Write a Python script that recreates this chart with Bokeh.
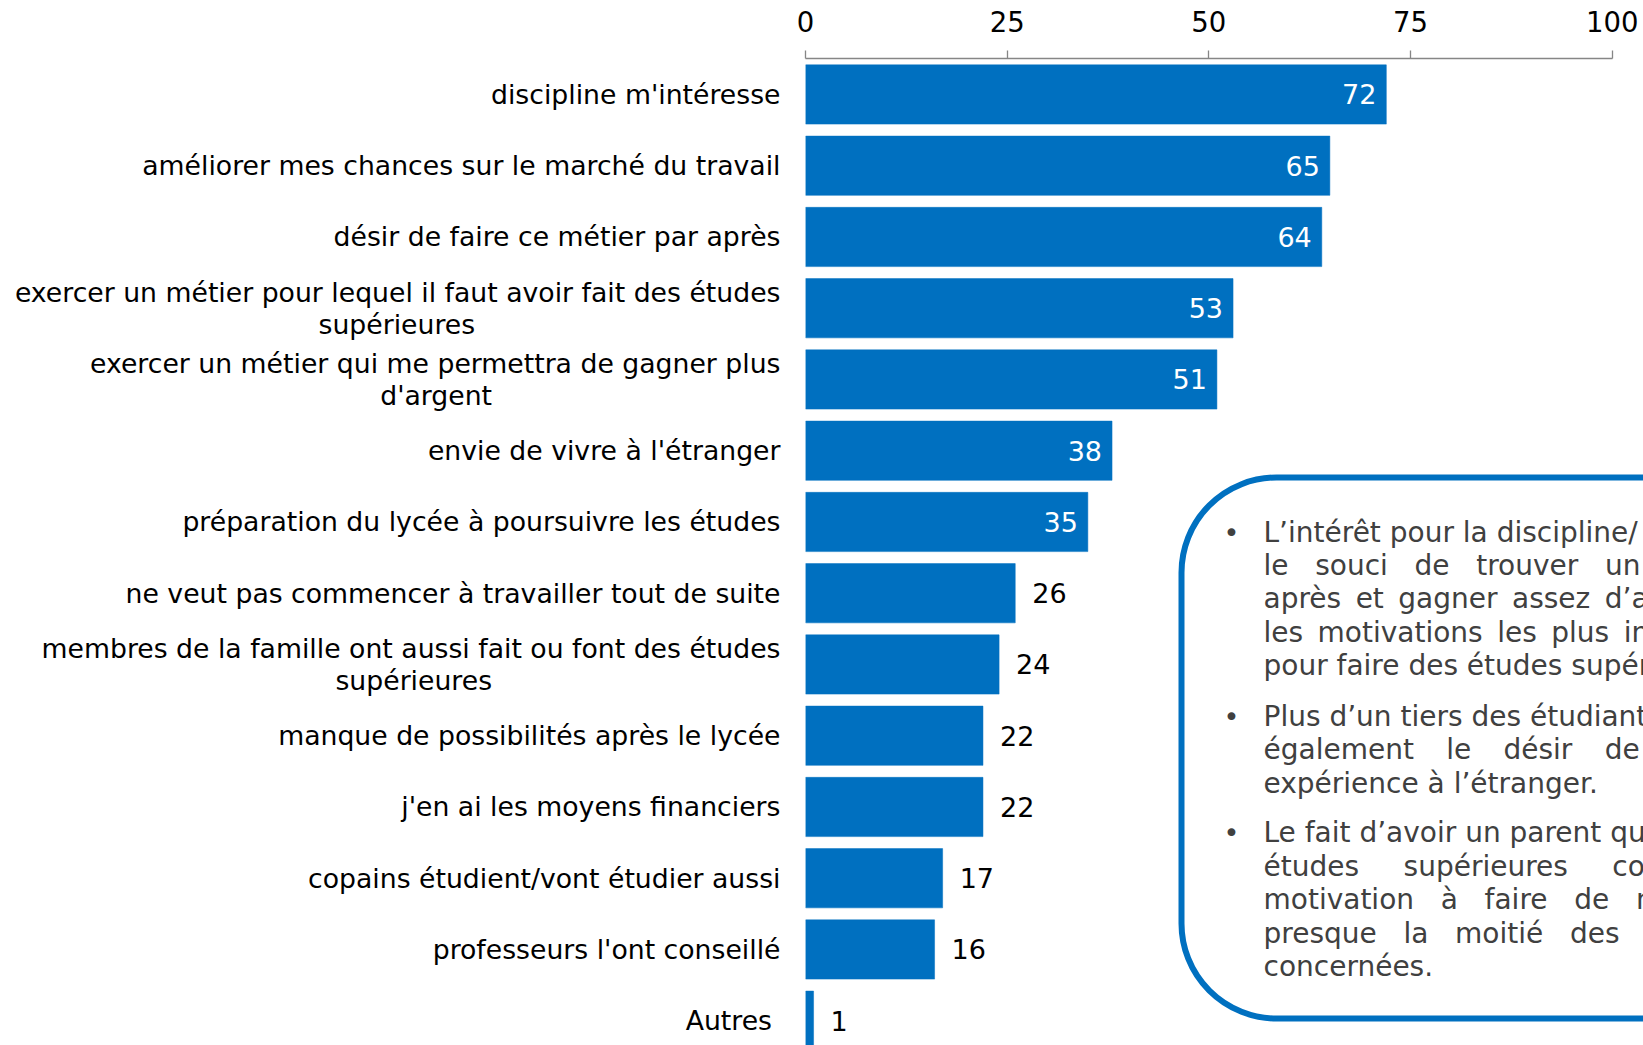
from bokeh.plotting import figure
from bokeh.models import Range1d, FixedTicker, ColumnDataSource, BoxAnnotation, Label
from bokeh.embed import file_html
from bokeh.resources import INLINE
from bokeh.core.properties import value

# ---------------- data ----------------
NB = "\u00a0"
TH = "\u2009"
categories = [
    "discipline m'intéresse",
    "améliorer mes chances sur le marché du travail",
    "désir de faire ce métier par après",
    "exercer un métier pour lequel il faut avoir fait des études\nsupérieures",
    "exercer un métier qui me permettra de gagner plus\nd'argent",
    "envie de vivre à l'étranger",
    "préparation du lycée à poursuivre les études",
    "ne veut pas commencer à travailler tout de suite",
    "membres de la famille ont aussi fait ou font des études\nsupérieures",
    "manque de possibilités après le lycée",
    "j'en ai les moyens financiers",
    "copains étudient/vont étudier aussi",
    "professeurs l'ont conseillé",
    "Autres",
]
values = [72, 65, 64, 53, 51, 38, 35, 26, 24, 22, 22, 17, 16, 1]
x_ticks = [0, 25, 50, 75, 100]
base_note = "Base: Tous (n=2859)"

# trailing no-break spaces: centre the 2nd line of wrapped labels / nudge "Autres"
label_pad = [0, 0, 0, 36, 34, 0, 0, 0, 34, 0, 0, 0, 0, 1]

box_paragraphs = [
    [
        "L’intérêt pour la discipline/",
        "le" + NB * 3 + "souci" + NB * 3 + "de" + NB * 3 + "trouver" + NB * 3 + "un",
        "après" + NB + TH + "et" + NB + TH + "gagner" + NB + TH + "assez" + NB + TH + "d’argent",
        "les" + NB + TH + "motivations" + NB + TH + "les" + NB + TH + "plus" + NB + TH + "importantes",
        "pour faire des études supérieures.",
    ],
    [
        "Plus d’un tiers des étudiants",
        "également" + NB * 3 + TH + "le" + NB * 3 + TH + "désir" + NB * 3 + TH + "de",
        "expérience à l’étranger.",
    ],
    [
        "Le fait d’avoir un parent qui",
        "études" + NB * 5 + "supérieures" + NB * 5 + "constitue",
        "motivation" + NB * 3 + "à" + NB * 3 + "faire" + NB * 3 + "de" + NB * 3 + "même",
        "presque" + NB * 3 + "la" + NB * 3 + "moitié" + NB * 3 + "des",
        "concernées.",
    ],
]

# ---------------- layout / style ----------------
FONT = "DejaVu Sans"
FS_CAT = "26.7px"
FS_VAL = "27px"
FS_TICK = "27.5px"
FS_BOX = "28px"
BLUE = "#0070C0"
W, H = 1643, 1045
FRAME_L, FRAME_T = 805, 58
PX_PER_UNIT = 8.067
PITCH = 71.25
Y_TOP = -0.505


def dx(px):
    return (px - FRAME_L) / PX_PER_UNIT


def dy(py):
    return Y_TOP + (py - FRAME_T) / PITCH


idx = list(range(len(categories)))
labels = [c + NB * n for c, n in zip(categories, label_pad)]

p = figure(
    width=W, height=H,
    x_range=Range1d(0, (W - FRAME_L) / PX_PER_UNIT),
    y_range=Range1d(start=Y_TOP + (H - FRAME_T) / PITCH, end=Y_TOP),
    x_axis_location="above",
    output_backend="svg", toolbar_location=None,
    min_border_left=FRAME_L, min_border_right=0,
    min_border_top=FRAME_T, min_border_bottom=0,
)
p.outline_line_color = None
p.grid.visible = False
p.background_fill_color = "white"
p.border_fill_color = "white"

src = ColumnDataSource(dict(y=idx, v=values))
p.hbar(y="y", right="v", left=0, height=0.832, source=src,
       fill_color=BLUE, line_color=BLUE, line_width=0.5)

# value labels
inside = [i for i in idx if values[i] >= 30]
outside = [i for i in idx if values[i] < 30]
src_in = ColumnDataSource(dict(y=inside, v=[values[i] for i in inside],
                               t=[str(values[i]) for i in inside]))
src_out = ColumnDataSource(dict(y=outside, v=[values[i] for i in outside],
                                t=[str(values[i]) for i in outside]))
p.text(x="v", y="y", text="t", source=src_in, x_offset=-10,
       text_align="right", text_baseline="middle", text_color="white",
       text_font=value(FONT), text_font_size=FS_VAL)
p.text(x="v", y="y", text="t", source=src_out, x_offset=17,
       text_align="left", text_baseline="middle", text_color="black",
       text_font=value(FONT), text_font_size=FS_VAL)

# top axis
xa = p.xaxis[0]
xa.ticker = FixedTicker(ticks=x_ticks)
xa.bounds = (0, 100)
xa.major_tick_out = 8
xa.major_tick_in = 0
xa.minor_tick_out = 0
xa.minor_tick_in = 0
xa.axis_line_color = "#868686"
xa.axis_line_width = 1.3
xa.major_tick_line_color = "#868686"
xa.major_tick_line_width = 1.3
xa.major_label_standoff = 19
xa.major_label_text_font = FONT
xa.major_label_text_font_size = FS_TICK
xa.major_label_text_color = "black"

# left axis with category labels
ya = p.yaxis[0]
ya.ticker = FixedTicker(ticks=idx)
ya.major_label_overrides = {i: c for i, c in zip(idx, labels)}
ya.axis_line_color = None
ya.major_tick_line_color = None
ya.minor_tick_line_color = None
ya.major_tick_out = 0
ya.major_tick_in = 0
ya.minor_tick_out = 0
ya.minor_tick_in = 0
ya.major_label_standoff = 25
ya.major_label_text_font = FONT
ya.major_label_text_font_size = FS_CAT
ya.major_label_text_line_height = 1.03
ya.major_label_text_color = "black"

# base note (cropped at the top in the original)
p.add_layout(Label(x=dx(37.7), y=dy(11), text=base_note, text_align="left",
                   text_baseline="alphabetic", text_color="#7f7f7f",
                   text_font=FONT, text_font_size=FS_CAT))

# rounded comment box
p.add_layout(BoxAnnotation(left=dx(1181), right=dx(2400), top=dy(477), bottom=dy(1018),
                           fill_alpha=0, line_color=BLUE, line_alpha=1.0, line_width=6,
                           border_radius=95))

baselines = [
    [531.5, 564.9, 598.3, 631.9, 665.4],
    [715.7, 749.2, 782.7],
    [832.0, 865.5, 899.0, 932.6, 966.1],
]
for para, bls in zip(box_paragraphs, baselines):
    p.add_layout(Label(x=dx(1231), y=dy(bls[0]), text="•", text_align="center",
                       text_baseline="alphabetic", text_color="#404040",
                       text_font=FONT, text_font_size="27px"))
    for line, bl in zip(para, bls):
        p.add_layout(Label(x=dx(1263), y=dy(bl), text=line, text_align="left",
                           text_baseline="alphabetic", text_color="#404040",
                           text_font=FONT, text_font_size=FS_BOX))

open("out.html", "w").write(file_html(p, INLINE))
